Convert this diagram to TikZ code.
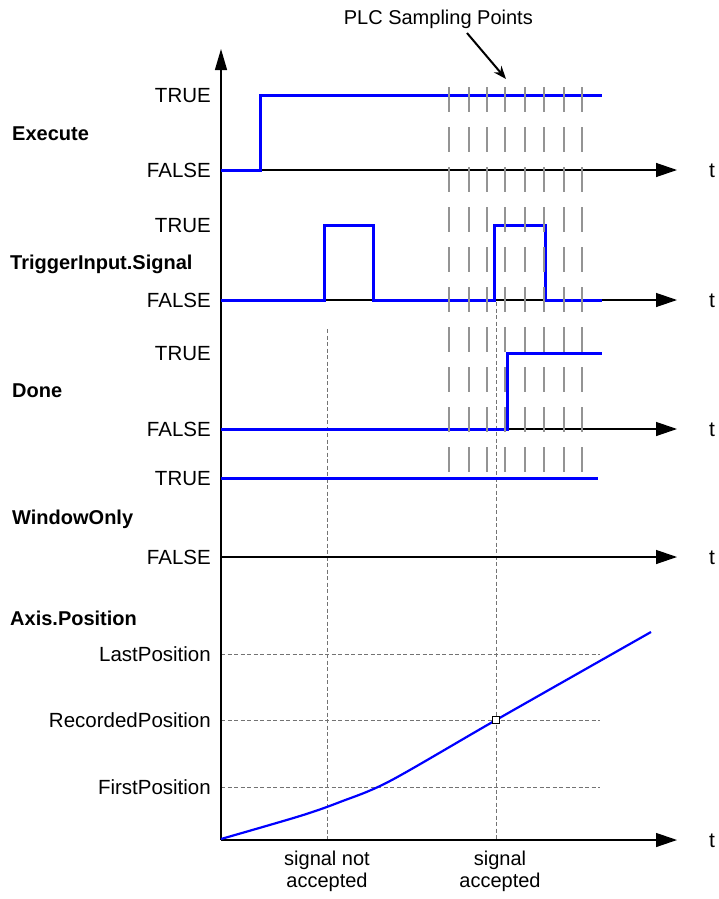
\documentclass[tikz,border=0pt]{standalone}
\usepackage{fontspec}
\setmainfont{Liberation Sans}
\usetikzlibrary{arrows.meta}
\begin{document}
\begin{tikzpicture}[x=1pt,y=-1pt,
  sig/.style={draw=blue, line width=3pt, line join=miter},
  tax/.style={draw=black, line width=1.3pt, -{Triangle[length=21pt,width=14pt]}},
  samp/.style={draw=black!42, line width=1.4pt, dash pattern=on 25pt off 15pt},
  guide/.style={draw=black!55, line width=0.8pt, dash pattern=on 4pt off 2.5pt},
  lvl/.style={anchor=base east, inner sep=0pt, yshift=-7.5pt, font=\fontsize{20.5}{24}\selectfont},
  sname/.style={anchor=base west, inner sep=0pt, yshift=-7.5pt, font=\fontsize{20}{24}\selectfont\bfseries},
  tlab/.style={anchor=base west, inner sep=0pt, yshift=-7.5pt, font=\fontsize{21}{24}\selectfont},
  note/.style={anchor=base, inner sep=0pt, font=\fontsize{20}{24}\selectfont},
]
\useasboundingbox (0,0) rectangle (719,899);
\fill[white] (0,0) rectangle (719,899);

% guide lines
\coordinate (gna1) at (327,329); \coordinate (gna2) at (327,840);
\coordinate (ga1) at (496,302); \coordinate (ga2) at (496,840);
\draw[guide] (gna1) -- (gna2);
\draw[guide] (ga1) -- (ga2);
\foreach \yy/\nm in {654/gl,720/gr,787/gf}{
  \coordinate (\nm1) at (221,\yy); \coordinate (\nm2) at (600,\yy);
  \draw[guide] (\nm1) -- (\nm2);
}

% vertical axis
\coordinate (o) at (221,840);
\coordinate (vtop) at (221,49);
\draw[draw=black, line width=1.3pt, -{Triangle[length=21pt,width=12pt]}] (o) -- (vtop);

% time axes
\foreach \yy/\nm in {170/ax1,300/ax2,429/ax3,557/ax4,840/ax5}{
  \coordinate (\nm s) at (221,\yy); \coordinate (\nm e) at (677,\yy);
  \draw[tax] (\nm s) -- (\nm e);
  \node[tlab] (\nm t) at (709,\yy) {t};
}

% signals
\draw[sig] (221,170) -- (260,170) -- (260,95) -- (602,95);
\draw[sig] (221,300) -- (324,300) -- (324,225) -- (373,225) -- (373,300)
  -- (494,300) -- (494,225) -- (545,225) -- (545,300) -- (602,300);
\draw[sig] (221,429) -- (507,429) -- (507,353) -- (602,353);
\draw[sig] (221,478) -- (598,478);

% position curve
\draw[blue, line width=2.2pt] plot[smooth, tension=0.5] coordinates
  {(221,839) (300,816) (340,802) (390,781) (496,720) (651,632)};
\node[draw=black, fill=white, minimum size=7pt, inner sep=0pt, line width=1.2pt] (rec) at (496,720) {};

% sampling points
\foreach \xx in {449,469,487,505,525,544,564,582}{
  \draw[samp] (\xx,87) -- (\xx,475);
}

% PLC label and arrow
\node[anchor=base east, inner sep=0pt, font=\fontsize{20}{24}\selectfont] (plc) at (533,25) {PLC Sampling Points};
\coordinate (pa) at (467,33); \coordinate (pb) at (506,79);
\draw[line width=2pt, -{Stealth[length=13pt,width=10pt]}] (pa) -- (pb);

% level labels
\node[lvl] (t1) at (211,95) {TRUE};
\node[lvl] (f1) at (211,170) {FALSE};
\node[lvl] (t2) at (211,225) {TRUE};
\node[lvl] (f2) at (211,300) {FALSE};
\node[lvl] (t3) at (211,353) {TRUE};
\node[lvl] (f3) at (211,429) {FALSE};
\node[lvl] (t4) at (211,478) {TRUE};
\node[lvl] (f4) at (211,557) {FALSE};
\node[lvl] (lp) at (211,654) {LastPosition};
\node[lvl] (rp) at (211,720) {RecordedPosition};
\node[lvl] (fp) at (211,787) {FirstPosition};

% signal names
\node[sname] (n1) at (12,133) {Execute};
\node[sname] (n2) at (10,262) {TriggerInput.Signal};
\node[sname] (n3) at (12,390) {Done};
\node[sname] (n4) at (12,517) {WindowOnly};
\node[sname] (n5) at (10,618) {Axis.Position};

% bottom notes
\node[note] (sn1) at (327,865) {signal not};
\node[note] (sn2) at (327,887) {accepted};
\node[note] (sa1) at (500,865) {signal};
\node[note] (sa2) at (500,887) {accepted};
\end{tikzpicture}
\end{document}
